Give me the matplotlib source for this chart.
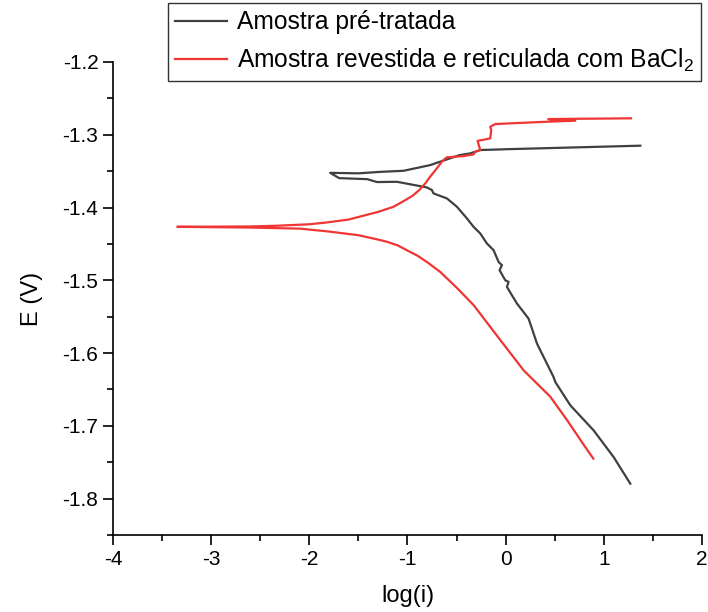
import matplotlib
matplotlib.use("Agg")
import matplotlib.pyplot as plt
from matplotlib.ticker import MultipleLocator

plt.rcParams["font.family"] = ["Liberation Sans", "DejaVu Sans"]
plt.rcParams["mathtext.default"] = "regular"

# pre-treated sample: cathodic branch (bottom right -> Ecorr), spike, anodic branch
pre_logi = [1.270, 1.100, 0.896, 0.659, 0.506, 0.488, 0.319, 0.268, 0.233, 0.115,
            0.013, 0.030, -0.004, -0.062, -0.038, -0.072, -0.123, -0.191, -0.259,
            -0.327, -0.394, -0.496, -0.598, -0.735, -0.751, -0.802, -0.871,
            -1.108, -1.310, -1.410, -1.696, -1.788, -1.500, -1.280, -1.040,
            -0.769, -0.667, -0.471, -0.361, -0.259, 0.047, 0.250, 1.372]
pre_E = [-1.7795, -1.7429, -1.7062, -1.6718, -1.6398, -1.6329, -1.5869, -1.5663,
         -1.5526, -1.5319, -1.5091, -1.5022, -1.4999, -1.4861, -1.4792, -1.4747,
         -1.4586, -1.4494, -1.4356, -1.4265, -1.4150, -1.3990, -1.3875, -1.3806,
         -1.3760, -1.3724, -1.3706, -1.3646, -1.3650, -1.3610, -1.3596, -1.3523,
         -1.3530, -1.3510, -1.3495, -1.3417, -1.3370, -1.3280, -1.3256, -1.3210,
         -1.3197, -1.3190, -1.3150]

# coated + BaCl2 crosslinked sample: cathodic branch, then anodic branch
coat_logi = [0.893, 0.780, 0.625, 0.455, 0.183, -0.106, -0.327, -0.500, -0.667,
             -0.800, -0.900, -0.973, -1.100, -1.210, -1.300, -1.500, -1.800,
             -2.094, -2.600, -3.345,
             -2.600, -2.330, -2.000, -1.822, -1.600, -1.414, -1.300, -1.143,
             -1.050, -0.950, -0.880, -0.820, -0.760, -0.700, -0.650, -0.610,
             -0.598, -0.429, -0.327, -0.310, -0.259, -0.286, -0.242, -0.157,
             -0.147, -0.157, -0.106, 0.047, 0.421, 0.709, 0.434, 1.277]
coat_E = [-1.7450, -1.7230, -1.6920, -1.6600, -1.6237, -1.5730, -1.5340, -1.5100,
          -1.4884, -1.4750, -1.4660, -1.4610, -1.4520, -1.4470, -1.4440, -1.4380,
          -1.4330, -1.4290, -1.4275, -1.4265,
          -1.4260, -1.4250, -1.4230, -1.4205, -1.4165, -1.4100, -1.4060, -1.3990,
          -1.3920, -1.3840, -1.3760, -1.3670, -1.3560, -1.3460, -1.3370, -1.3320,
          -1.3310, -1.3293, -1.3270, -1.3234, -1.3210, -1.3083, -1.3073, -1.3050,
          -1.2935, -1.2890, -1.2853, -1.2843, -1.2821, -1.2807, -1.2784, -1.2774]

labels = ["Amostra pré-tratada", "Amostra revestida e reticulada com BaCl$_2$"]

fig = plt.figure(figsize=(7.08, 6.12), dpi=100)
ax = fig.add_axes([0.1596, 0.1258, 0.8319, 0.7729])

ax.plot(pre_logi, pre_E, color="#404040", lw=1.6, label=labels[0])
ax.plot(coat_logi, coat_E, color="#f03535", lw=1.6, label=labels[1])

ax.set_xlim(-4, 2)
ax.set_ylim(-1.85, -1.2)
ax.xaxis.set_minor_locator(MultipleLocator(0.5))
ax.yaxis.set_minor_locator(MultipleLocator(0.05))
ax.set_yticks([-1.2, -1.3, -1.4, -1.5, -1.6, -1.7, -1.8])
ax.set_yticklabels(["-1.2", "-1.3", "-1.4", "-1.5", "-1.6", "-1.7", "-1.8"])
ax.set_xticks([-4, -3, -2, -1, 0, 1, 2])
ax.set_xticklabels(["-4", "-3", "-2", "-1", "0", "1", "2"])

for side in ["top", "right"]:
    ax.spines[side].set_visible(False)
for side in ["left", "bottom"]:
    ax.spines[side].set_linewidth(1.2)
ax.tick_params(which="major", direction="out", length=7, width=1.2, labelsize=15)
ax.tick_params(which="minor", direction="out", length=4, width=1.2)

ax.set_xlabel("log(i)", fontsize=17, labelpad=12)
ax.set_ylabel("E (V)", fontsize=17, labelpad=14)

leg = fig.legend(loc="upper left", bbox_to_anchor=(168 / 708, 1 - 3 / 612),
                 fontsize=17.7, frameon=True, fancybox=False, borderaxespad=0,
                 handlelength=2.1, handletextpad=0.4, borderpad=0.3,
                 labelspacing=0.5)
leg.get_frame().set_edgecolor("black")
leg.get_frame().set_linewidth(1.0)

fig.savefig("out.png", dpi=100)
